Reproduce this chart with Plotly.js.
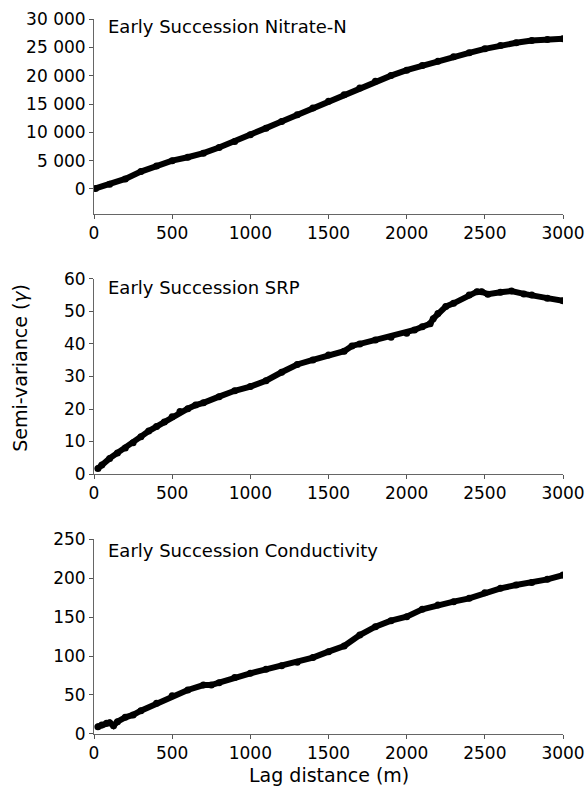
<!DOCTYPE html>
<html>
<head>
<meta charset="utf-8">
<script src="https://cdn.plot.ly/plotly-3.0.1.min.js"></script>
<style>html,body{margin:0;padding:0;background:#fff;}#chart{width:588px;height:794px;}</style>
</head>
<body>
<div id="chart"></div>
<script>
// Nitrate-N semi-variance
const nitrateLag = [10,100,200,300,400,500,600,700,800,900,1000,1100,1200,1300,1400,1500,1600,1700,1800,1900,2000,2100,2200,2300,2400,2500,2600,2700,2800,2900,3000];
const nitrateVal = [100,830,1770,3070,4070,5000,5600,6320,7320,8380,9560,10740,11920,13100,14290,15470,16650,17830,19010,20010,20960,21780,22550,23320,24030,24730,25330,25800,26210,26390,26500];

// SRP semi-variance
const srpLag = [25,50,100,150,200,250,300,350,400,450,500,550,600,650,700,800,900,1000,1100,1200,1300,1400,1500,1600,1650,1700,1800,1900,2000,2050,2100,2150,2170,2200,2250,2300,2400,2450,2480,2520,2600,2670,2750,2800,2900,3000];
const srpVal = [1.7,2.8,4.8,6.5,8.0,9.6,11.5,13.2,14.6,16.0,17.6,19.2,20.1,21.2,21.9,23.8,25.6,26.9,28.7,31.3,33.7,35.1,36.6,37.8,39.4,40.0,41.2,42.1,43.3,44.3,45.3,46.2,47.8,49.4,51.5,52.5,55.1,56.1,56.1,55.3,55.9,56.3,55.4,55.1,54.1,53.3];

// Conductivity semi-variance
const condLag = [25,50,80,100,125,150,200,250,300,400,500,600,700,750,800,900,1000,1100,1200,1300,1400,1500,1600,1700,1800,1900,2000,2100,2200,2300,2400,2500,2600,2700,2800,2900,3000];
const condVal = [9.4,11.5,13.7,14.5,10.7,15.8,21.4,24.4,29.9,39.3,49.1,56.4,62.8,62.8,65.8,72.6,77.8,82.9,87.6,92,98,105.6,112.8,126.9,137.6,145.3,150.4,159.8,165.4,169.7,173.9,181.2,186.8,191,194.4,198.3,203.8];

const panelLabels = ["Early Succession Nitrate-N","Early Succession SRP","Early Succession Conductivity"];
const xTicks = [0,500,1000,1500,2000,2500,3000];
const nitrateTicks = [0,5000,10000,15000,20000,25000,30000];
const nitrateTickText = ["0","5 000","10 000","15 000","20 000","25 000","30 000"];
const srpTicks = [0,10,20,30,40,50,60];
const condTicks = [0,50,100,150,200,250];
const yTitle = "Semi-variance (<i>γ</i>)";
const xTitle = "Lag distance (m)";

const FONT = "DejaVu Sans, Arial, sans-serif";
function trace(x, y, xa, ya) {
  return {x: x, y: y, xaxis: xa, yaxis: ya, type: 'scatter', mode: 'lines+markers',
    line: {color: '#000', width: 6}, marker: {color: '#000', size: 7}, showlegend: false, hoverinfo: 'skip'};
}
const data = [
  trace(nitrateLag, nitrateVal, 'x', 'y'),
  trace(srpLag, srpVal, 'x2', 'y2'),
  trace(condLag, condVal, 'x3', 'y3')
];
function xax(anchor) {
  return {anchor: anchor, range: [0, 3000], tickvals: xTicks, ticks: 'outside', ticklen: 4, tickcolor: '#555',
    showline: true, linecolor: '#666', linewidth: 1, showgrid: false, zeroline: false,
    tickfont: {family: FONT, size: 17, color: '#000'}, fixedrange: true};
}
function yax(anchor, domain, range, tv, tt) {
  const a = {anchor: anchor, domain: domain, range: range, tickvals: tv, ticks: 'outside', ticklen: 4, tickcolor: '#555',
    showline: true, linecolor: '#666', linewidth: 1, showgrid: false, zeroline: false,
    tickfont: {family: FONT, size: 17, color: '#000'}, fixedrange: true};
  if (tt) a.ticktext = tt;
  return a;
}
const layout = {
  width: 588, height: 794,
  margin: {l: 94, r: 25, t: 19, b: 60},
  paper_bgcolor: '#fff', plot_bgcolor: '#fff',
  font: {family: FONT, size: 17, color: '#000'},
  xaxis: Object.assign(xax('y'), {domain: [0, 1]}),
  yaxis: yax('x', [0.7273, 1.0], [-4410, 30000], nitrateTicks, nitrateTickText),
  xaxis2: Object.assign(xax('y2'), {domain: [0, 1]}),
  yaxis2: yax('x2', [0.3636, 0.6364], [0, 60], srpTicks),
  xaxis3: Object.assign(xax('y3'), {domain: [0, 1]}),
  yaxis3: yax('x3', [0, 0.2727], [0, 250], condTicks),
  annotations: [
    {text: panelLabels[0], xref: 'paper', yref: 'paper', x: 0.0256, y: 0.990, xanchor: 'left', yanchor: 'middle', showarrow: false, font: {family: FONT, size: 18}},
    {text: panelLabels[1], xref: 'paper', yref: 'paper', x: 0.0256, y: 0.625, xanchor: 'left', yanchor: 'middle', showarrow: false, font: {family: FONT, size: 18}},
    {text: panelLabels[2], xref: 'paper', yref: 'paper', x: 0.0256, y: 0.256, xanchor: 'left', yanchor: 'middle', showarrow: false, font: {family: FONT, size: 18}},
    {text: yTitle, xref: 'paper', yref: 'paper', x: -0.158, y: 0.512, xanchor: 'center', yanchor: 'middle', textangle: -90, showarrow: false, font: {family: FONT, size: 19}},
    {text: xTitle, xref: 'paper', yref: 'paper', x: 0.5, y: -0.0573, xanchor: 'center', yanchor: 'middle', showarrow: false, font: {family: FONT, size: 19}}
  ]
};
Plotly.newPlot('chart', data, layout, {staticPlot: true, displayModeBar: false});
</script>
</body>
</html>
